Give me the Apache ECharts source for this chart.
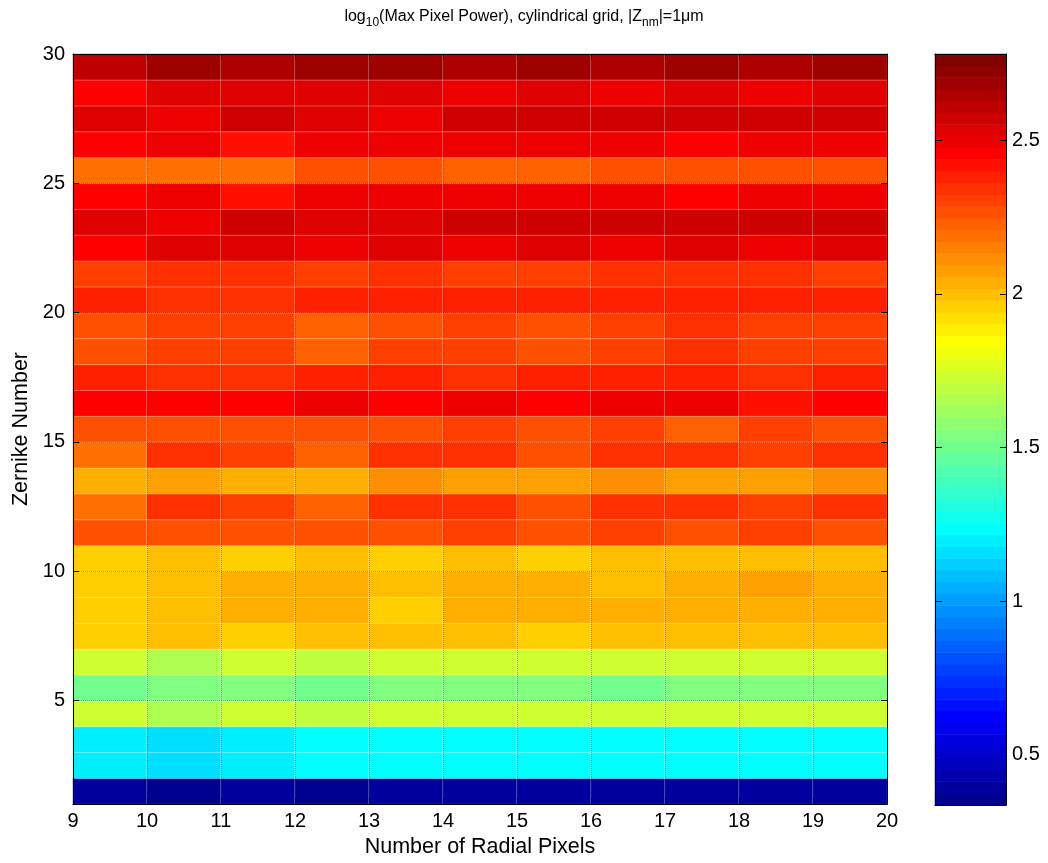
<!DOCTYPE html>
<html>
<head>
<meta charset="utf-8">
<script src="https://cdn.jsdelivr.net/npm/echarts@6/dist/echarts.min.js"></script>
<style>html,body{margin:0;padding:0;background:#fff}#chart{width:1048px;height:863px}</style>
</head>
<body>
<div id="chart"></div>
<script>
// ---- data ----
const radialPixelCells = ['9','10','11','12','13','14','15','16','17','18','19'];
const zernikeCells = ['1','2','3','4','5','6','7','8','9','10','11','12','13','14','15','16','17','18','19','20','21','22','23','24','25','26','27','28','29'];
const yTickValues = [5,10,15,20,25,30];
const colorbarTickValues = [0.5,1,1.5,2,2.5];
const colorMin = 0.337, colorMax = 2.78;

// log10(max pixel power), one array per Zernike row (columns: 9..19 radial pixels)
const zernike1  = [0.39,0.36,0.39,0.36,0.39,0.39,0.39,0.39,0.39,0.39,0.39];
const zernike2  = [1.20,1.16,1.20,1.23,1.23,1.23,1.23,1.23,1.23,1.23,1.23];
const zernike3  = [1.20,1.16,1.20,1.23,1.23,1.23,1.23,1.23,1.23,1.23,1.23];
const zernike4  = [1.73,1.65,1.73,1.69,1.73,1.73,1.73,1.73,1.73,1.73,1.73];
const zernike5  = [1.50,1.54,1.54,1.50,1.54,1.54,1.54,1.50,1.54,1.54,1.54];
const zernike6  = [1.73,1.65,1.73,1.69,1.73,1.73,1.73,1.73,1.73,1.73,1.73];
const zernike7  = [1.96,2.00,1.96,2.00,2.00,2.00,1.96,2.00,2.00,2.00,2.00];
const zernike8  = [1.96,2.00,2.04,2.04,1.96,2.04,2.04,2.04,2.04,2.04,2.04];
const zernike9  = [1.96,2.00,2.04,2.04,2.00,2.04,2.04,2.00,2.04,2.07,2.04];
const zernike10 = [1.96,2.00,1.96,2.00,1.96,2.00,1.96,2.00,2.00,2.00,2.00];
const zernike11 = [2.26,2.26,2.26,2.26,2.26,2.30,2.26,2.30,2.26,2.30,2.26];
const zernike12 = [2.19,2.34,2.30,2.23,2.34,2.34,2.26,2.34,2.34,2.30,2.34];
const zernike13 = [2.04,2.07,2.04,2.04,2.11,2.07,2.07,2.11,2.07,2.07,2.11];
const zernike14 = [2.19,2.34,2.30,2.23,2.34,2.34,2.26,2.34,2.34,2.30,2.34];
const zernike15 = [2.26,2.26,2.26,2.26,2.26,2.30,2.26,2.30,2.23,2.30,2.26];
const zernike16 = [2.46,2.46,2.46,2.49,2.46,2.49,2.46,2.49,2.49,2.42,2.46];
const zernike17 = [2.38,2.34,2.34,2.38,2.38,2.34,2.38,2.38,2.38,2.34,2.38];
const zernike18 = [2.26,2.30,2.30,2.23,2.30,2.30,2.26,2.30,2.34,2.30,2.30];
const zernike19 = [2.26,2.30,2.30,2.23,2.26,2.30,2.26,2.30,2.34,2.30,2.30];
const zernike20 = [2.38,2.34,2.34,2.38,2.38,2.38,2.38,2.38,2.38,2.38,2.38];
const zernike21 = [2.30,2.34,2.34,2.30,2.34,2.30,2.30,2.34,2.34,2.34,2.30];
const zernike22 = [2.46,2.53,2.53,2.49,2.53,2.49,2.53,2.49,2.53,2.49,2.53];
const zernike23 = [2.53,2.49,2.57,2.53,2.53,2.57,2.57,2.57,2.57,2.57,2.57];
const zernike24 = [2.46,2.49,2.42,2.49,2.49,2.49,2.49,2.49,2.46,2.49,2.49];
const zernike25 = [2.19,2.19,2.19,2.26,2.26,2.23,2.23,2.26,2.26,2.26,2.26];
const zernike26 = [2.46,2.49,2.42,2.49,2.49,2.49,2.49,2.49,2.46,2.49,2.49];
const zernike27 = [2.53,2.49,2.57,2.53,2.49,2.57,2.57,2.57,2.57,2.57,2.57];
const zernike28 = [2.46,2.53,2.53,2.53,2.53,2.49,2.53,2.49,2.53,2.49,2.53];
const zernike29 = [2.61,2.68,2.65,2.68,2.68,2.65,2.68,2.65,2.68,2.65,2.68];

const rows = [zernike1,zernike2,zernike3,zernike4,zernike5,zernike6,zernike7,zernike8,zernike9,zernike10,
  zernike11,zernike12,zernike13,zernike14,zernike15,zernike16,zernike17,zernike18,zernike19,zernike20,
  zernike21,zernike22,zernike23,zernike24,zernike25,zernike26,zernike27,zernike28,zernike29];

// ---- MATLAB jet(64) colormap, stepped ----
function jet64() {
  const n = 16, u = [];
  for (let i = 1; i <= n; i++) u.push(i / n);
  for (let i = 0; i < n - 1; i++) u.push(1);
  for (let i = n; i >= 1; i--) u.push(i / n);
  const f = i => (i >= 0 && i < u.length) ? u[i] : 0;
  const out = [];
  for (let k = 0; k < 64; k++) {
    const r = Math.round(f(k - 24) * 255), g = Math.round(f(k - 8) * 255), b = Math.round(f(k + 8) * 255);
    out.push('rgb(' + r + ',' + g + ',' + b + ')');
  }
  return out;
}
const jet = jet64();
const steppedColors = [];
jet.forEach(c => { for (let i = 0; i < 8; i++) steppedColors.push(c); });

const heatData = [];
rows.forEach((row, r) => row.forEach((v, c) => heatData.push([c, r, v])));

// colorbar: one cell per colormap band (band-centre value)
const bandNames = jet.map((c, k) => 'b' + k);
const bandData = jet.map((c, k) => [0, k, colorMin + (k + 0.5) * (colorMax - colorMin) / jet.length]);

const FONT = "'Liberation Sans', Arial, Helvetica, sans-serif";
const tickFont = { fontFamily: FONT, fontSize: 20, color: '#000' };
const edge = { show: true, onZero: false, lineStyle: { color: '#000', width: 1 } };

const chart = echarts.init(document.getElementById('chart'), null, { renderer: 'canvas' });
chart.setOption({
  animation: false,
  backgroundColor: '#fff',
  title: {
    left: 'center', top: 0,
    text: '{n|log}{s|10}{n|(Max Pixel Power), cylindrical grid, |Z}{s|nm}{n||=1μm}',
    textStyle: {
      fontWeight: 'normal',
      rich: {
        n: { fontFamily: FONT, fontSize: 16, fontWeight: 'normal', color: '#000' },
        s: { fontFamily: FONT, fontSize: 12, fontWeight: 'normal', color: '#000', padding: [12, 0, 0, 0] }
      }
    }
  },
  grid: [
    { left: 73, top: 54, width: 814, height: 751 },
    { left: 935, top: 54, width: 71, height: 751 }
  ],
  xAxis: [
    { type: 'category', gridIndex: 0, data: radialPixelCells, show: false },
    { type: 'value', gridIndex: 0, min: 9, max: 20, interval: 1, position: 'bottom', z: 10,
      axisLine: edge,
      axisTick: { inside: true, length: 6, lineStyle: { color: '#000' } },
      axisLabel: Object.assign({ margin: 7 }, tickFont),
      splitLine: { show: true, lineStyle: { type: 'dotted', color: 'rgba(0,0,0,0.3)' } },
      name: 'Number of Radial Pixels', nameLocation: 'middle', nameGap: 21,
      nameTextStyle: { fontFamily: FONT, fontSize: 21.5, color: '#000' } },
    { type: 'value', gridIndex: 0, min: 9, max: 20, interval: 1, position: 'top', z: 10,
      axisLine: edge,
      axisTick: { inside: true, length: 6, lineStyle: { color: '#000' } },
      axisLabel: { show: false }, splitLine: { show: false } },
    { type: 'category', gridIndex: 1, data: ['cb'], show: false },
    { type: 'value', gridIndex: 1, min: 0, max: 1, position: 'bottom', z: 10, axisLine: edge,
      axisTick: { show: false }, axisLabel: { show: false }, splitLine: { show: false } },
    { type: 'value', gridIndex: 1, min: 0, max: 1, position: 'top', z: 10, axisLine: edge,
      axisTick: { show: false }, axisLabel: { show: false }, splitLine: { show: false } }
  ],
  yAxis: [
    { type: 'category', gridIndex: 0, data: zernikeCells, show: false },
    { type: 'value', gridIndex: 0, min: 1, max: 30, position: 'left', z: 10,
      axisLine: edge,
      axisTick: { inside: true, length: 6, customValues: yTickValues, lineStyle: { color: '#000' } },
      axisLabel: Object.assign({ margin: 8, customValues: yTickValues }, tickFont),
      splitLine: { show: true, lineStyle: { type: 'dotted', color: 'rgba(0,0,0,0.3)' } },
      name: 'Zernike Number', nameLocation: 'middle', nameGap: 41, nameRotate: 90,
      nameTextStyle: { fontFamily: FONT, fontSize: 21.5, color: '#000' } },
    { type: 'value', gridIndex: 0, min: 1, max: 30, position: 'right', z: 10,
      axisLine: edge,
      axisTick: { inside: true, length: 6, customValues: yTickValues, lineStyle: { color: '#000' } },
      axisLabel: { show: false }, splitLine: { show: false } },
    { type: 'category', gridIndex: 1, data: bandNames, show: false },
    { type: 'value', gridIndex: 1, min: colorMin, max: colorMax, position: 'right', z: 10,
      axisLine: edge,
      axisTick: { inside: true, length: 6, customValues: colorbarTickValues, lineStyle: { color: '#000' } },
      axisLabel: Object.assign({ margin: 6, customValues: colorbarTickValues, formatter: v => String(v) }, tickFont),
      splitLine: { show: false } },
    { type: 'value', gridIndex: 1, min: colorMin, max: colorMax, position: 'left', z: 10,
      axisLine: edge,
      axisTick: { inside: true, length: 7, customValues: colorbarTickValues, lineStyle: { color: '#000' } },
      axisLabel: { show: false }, splitLine: { show: false } }
  ],
  visualMap: {
    type: 'continuous', show: false, seriesIndex: [0, 1], min: colorMin, max: colorMax,
    inRange: { color: steppedColors }
  },
  series: [{
    type: 'heatmap', xAxisIndex: 0, yAxisIndex: 0, data: heatData, z: 1,
    itemStyle: { borderColor: 'rgba(255,255,255,0.3)', borderWidth: 1 },
    emphasis: { disabled: true }, progressive: 0
  }, {
    type: 'heatmap', xAxisIndex: 3, yAxisIndex: 3, data: bandData, z: 1,
    emphasis: { disabled: true }, progressive: 0
  }]
});
</script>
</body>
</html>
